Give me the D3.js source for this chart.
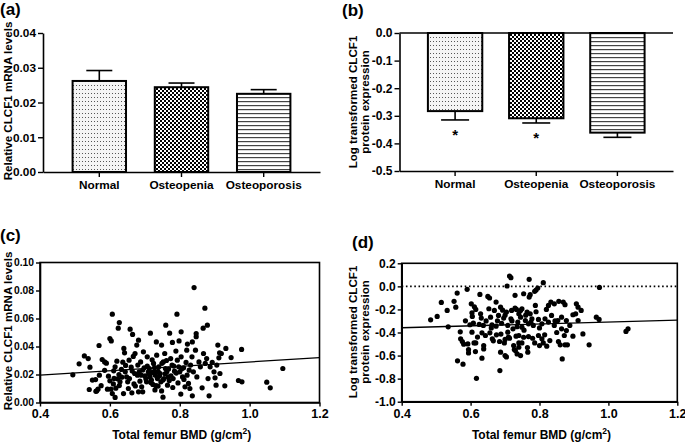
<!DOCTYPE html>
<html><head><meta charset="utf-8">
<script src="https://cdn.jsdelivr.net/npm/d3@7"></script>
<style>
html,body{margin:0;padding:0;background:#fff;}
svg text{font-family:"Liberation Sans",Arial,sans-serif;font-weight:bold;fill:#000;}
</style></head>
<body>
<svg id="chart" width="685" height="442"></svg>
<script>
// ---------- DATA ----------
const categories = ["Normal", "Osteopenia", "Osteoporosis"];
const mrnaMean = [0.0262, 0.0244, 0.0225];
const mrnaErr = [0.0030, 0.0012, 0.0012];
const proteinMean = [-0.283, -0.309, -0.361];
const proteinErr = [0.032, 0.017, 0.017];
const proteinMark = ["*", "*", ""];

const mrnaTicks = [0, 0.01, 0.02, 0.03, 0.04];
const mrnaTickLabels = ["0.00", "0.01", "0.02", "0.03", "0.04"];
const proteinTicks = [0, -0.1, -0.2, -0.3, -0.4, -0.5];
const proteinTickLabels = ["0.0", "-0.1", "-0.2", "-0.3", "-0.4", "-0.5"];
const bmdTicks = [0.4, 0.6, 0.8, 1.0, 1.2];
const bmdTickLabels = ["0.4", "0.6", "0.8", "1.0", "1.2"];
const mrnaScatterTicks = [0, 0.02, 0.04, 0.06, 0.08, 0.10];
const mrnaScatterTickLabels = ["0.00", "0.02", "0.04", "0.06", "0.08", "0.10"];
const proteinScatterTicks = [0.2, 0, -0.2, -0.4, -0.6, -0.8, -1.0];
const proteinScatterTickLabels = ["0.2", "0.0", "-0.2", "-0.4", "-0.6", "-0.8", "-1.0"];

const mrnaFit = [[0.4, 0.0196], [1.2, 0.0321]];
const proteinFit = [[0.4, -0.359], [1.2, -0.292]];

const mrnaScatter = [
[0.841,0.0821],[0.872,0.0674],[0.607,0.0631],[0.792,0.0631],[0.627,0.0571],[0.624,0.0531],[0.760,0.0552],[0.879,0.0552],[0.867,0.0531],[0.658,0.0524],
[0.665,0.0486],[0.716,0.0495],[0.771,0.0495],[0.804,0.0505],[0.847,0.0493],[0.847,0.0470],[0.600,0.0457],[0.604,0.0440],[0.682,0.0445],[0.569,0.0407],
[0.733,0.0433],[0.748,0.0410],[0.779,0.0429],[0.798,0.0440],[0.822,0.0417],[0.836,0.0433],[0.909,0.0410],[0.977,0.0379],[0.932,0.0386],[0.914,0.0355],
[0.912,0.0319],[0.947,0.0321],[1.095,0.0243],[1.049,0.0145],[1.059,0.0105],[0.968,0.0157],[0.978,0.0148],[0.929,0.0119],[0.904,0.0124],[0.901,0.0176],
[0.884,0.0048],[0.836,0.0048],[0.803,0.0060],[0.752,0.0038],[0.615,0.0036],[0.607,0.0064],[0.541,0.0093],[0.562,0.0083],[0.566,0.0095],[0.494,0.0198],
[0.512,0.0276],[0.527,0.0333],[0.538,0.0314],[0.543,0.0252],[0.570,0.0195],[0.559,0.0164],[0.578,0.0307],[0.585,0.0290],[0.590,0.0281],
[0.596,0.0188],[0.600,0.0155],[0.593,0.0095],[0.603,0.0095],[0.611,0.0226],[0.615,0.0255],[0.610,0.0133],[0.620,0.0295],[0.622,0.0169],[0.626,0.0200],[0.617,0.0102],[0.627,0.0121],[0.629,0.0148],
[0.637,0.0288],[0.642,0.0355],[0.640,0.0386],[0.644,0.0219],[0.648,0.0183],[0.651,0.0148],[0.653,0.0100],[0.639,0.0064],[0.661,0.0252],[0.667,0.0329],[0.669,0.0133],[0.663,0.0069],[0.671,0.0207],[0.672,0.0350],[0.656,0.0171],[0.634,0.0181],
[0.677,0.0410],[0.680,0.0267],[0.684,0.0219],[0.686,0.0152],[0.691,0.0112],[0.696,0.0362],[0.698,0.0248],[0.701,0.0190],[0.705,0.0148],[0.682,0.0076],[0.694,0.0076],[0.707,0.0326],[0.710,0.0219],[0.688,0.0290],[0.679,0.0195],
[0.713,0.0243],[0.715,0.0183],[0.719,0.0160],[0.723,0.0129],[0.725,0.0279],[0.726,0.0219],[0.730,0.0195],[0.734,0.0338],[0.736,0.0171],[0.740,0.0255],[0.744,0.0207],[0.746,0.0148],[0.748,0.0083],[0.729,0.0090],[0.721,0.0305],[0.738,0.0117],
[0.753,0.0290],[0.757,0.0350],[0.759,0.0243],[0.763,0.0219],[0.767,0.0183],[0.770,0.0157],[0.774,0.0314],[0.778,0.0267],[0.780,0.0107],[0.781,0.0171],[0.785,0.0224],[0.789,0.0367],[0.765,0.0124],[0.755,0.0171],
[0.793,0.0302],[0.797,0.0255],[0.800,0.0219],[0.804,0.0326],[0.808,0.0183],[0.811,0.0248],[0.815,0.0112],[0.818,0.0286],[0.821,0.0195],[0.825,0.0136],[0.827,0.0231],[0.829,0.0100],[0.820,0.0374],
[0.831,0.0267],[0.835,0.0326],[0.839,0.0219],[0.845,0.0374],[0.849,0.0183],[0.855,0.0290],[0.859,0.0255],[0.864,0.0105],[0.868,0.0350],[0.873,0.0279],[0.877,0.0314],[0.881,0.0171],[0.887,0.0255],[0.893,0.0286],[0.898,0.0219],[0.906,0.0267],[0.915,0.0207],[0.919,0.0350],
[0.612,0.0172],[0.633,0.0236],[0.645,0.0265],[0.655,0.0302],[0.664,0.0225],[0.673,0.0118],[0.690,0.0195],[0.694,0.0232],[0.703,0.0170],[0.707,0.0260],[0.712,0.0205],[0.717,0.0142],[0.722,0.0215],[0.728,0.0250],[0.732,0.0120],[0.738,0.0222],
[0.742,0.0190],[0.749,0.0280],[0.752,0.0160],[0.758,0.0205],[0.762,0.0300],[0.768,0.0240],[0.775,0.0190],[0.783,0.0260],[0.790,0.0210],[0.795,0.0140],[0.805,0.0240],[0.812,0.0165],[0.585,0.0230],[0.575,0.0120],[0.550,0.0160],[0.560,0.0080]
];

const proteinScatter = [
[0.484,-0.290],[0.503,-0.261],[0.515,-0.139],[0.532,-0.209],[0.535,-0.351],[0.552,-0.130],[0.557,-0.180],[0.561,-0.058],[0.562,-0.646],[0.578,-0.675],
[0.590,-0.026],[0.585,-0.299],[0.570,-0.394],[0.571,-0.455],[0.576,-0.478],[0.580,-0.501],[0.594,-0.548],[0.594,-0.577],[0.592,-0.499],[0.602,-0.151],
[0.604,-0.229],[0.605,-0.261],[0.611,-0.177],[0.615,-0.200],[0.608,-0.319],[0.598,-0.333],[0.604,-0.397],[0.610,-0.490],[0.615,-0.490],[0.614,-0.565],
[0.633,-0.623],[0.617,-0.797],[0.627,-0.070],[0.629,-0.238],[0.631,-0.275],[0.633,-0.403],[0.637,-0.339],[0.638,-0.513],[0.638,-0.542],[0.643,-0.426],
[0.650,-0.087],[0.655,-0.101],[0.653,-0.194],[0.658,-0.267],[0.662,-0.333],[0.656,-0.403],[0.663,-0.455],[0.666,-0.472],[0.669,-0.209],[0.674,-0.136],
[0.674,-0.345],[0.678,-0.299],[0.681,-0.252],[0.687,-0.180],[0.688,-0.414],[0.687,-0.571],[0.684,-0.478],[0.693,-0.206],[0.696,-0.275],[0.698,-0.490],
[0.685,-0.730],[0.700,-0.600],[0.704,-0.612],[0.706,0.003],[0.713,0.090],[0.717,0.075],[0.704,-0.223],[0.708,-0.339],[0.708,-0.397],[0.713,-0.449],
[0.717,-0.281],[0.719,-0.209],[0.723,-0.368],[0.725,-0.513],[0.727,-0.548],[0.729,-0.078],[0.729,-0.188],[0.733,-0.200],[0.737,-0.310],[0.732,-0.432],
[0.770,0.061],[0.811,0.032],[0.795,-0.014],[0.790,-0.032],[0.786,-0.043],[0.773,-0.072],[0.770,-0.093],[0.754,-0.064],[0.974,-0.009],
[0.826,-0.165],[0.833,-0.136],[0.843,-0.151],[0.856,-0.130],[0.869,-0.136],[0.874,-0.159],[0.907,-0.151],[0.912,-0.180],[0.921,-0.209],[0.897,-0.246],
[0.905,-0.238],[0.788,-0.165],[0.749,-0.194],[0.764,-0.223],[0.773,-0.238],[0.740,-0.238],[0.745,-0.267],[0.759,-0.296],[0.778,-0.281],[0.797,-0.287],
[0.816,-0.281],[0.835,-0.252],[0.853,-0.296],[0.864,-0.267],[0.878,-0.296],[0.888,-0.339],[0.912,-0.296],[0.965,-0.267],[0.973,-0.287],[1.051,-0.391],
[1.057,-0.368],[0.749,-0.354],[0.768,-0.325],[0.782,-0.339],[0.807,-0.325],[0.826,-0.310],[0.843,-0.339],[0.864,-0.368],[0.878,-0.383],[0.872,-0.426],
[0.897,-0.432],[0.926,-0.412],[0.740,-0.426],[0.754,-0.441],[0.768,-0.435],[0.797,-0.426],[0.807,-0.455],[0.811,-0.490],[0.821,-0.519],[0.855,-0.478],
[0.860,-0.507],[0.874,-0.507],[0.881,-0.507],[0.944,-0.507],[0.866,-0.629],[0.766,-0.571],[0.740,-0.528],[0.735,-0.586],[0.745,-0.600],[0.730,-0.557],
[0.800,-0.513],[0.786,-0.490],[0.749,-0.490],
[0.645,-0.300],[0.660,-0.360],[0.675,-0.420],[0.690,-0.320],[0.700,-0.250],[0.710,-0.440],[0.720,-0.300],[0.735,-0.350],[0.745,-0.210],[0.755,-0.380],
[0.760,-0.250],[0.775,-0.310],[0.780,-0.450],[0.790,-0.220],[0.800,-0.360],[0.815,-0.420],[0.820,-0.200],[0.830,-0.470],[0.845,-0.300],[0.850,-0.400],
[0.620,-0.440],[0.625,-0.330],[0.700,-0.460],[0.740,-0.490],[0.765,-0.530]
];

// ---------- DRAWING ----------
const svg = d3.select("#chart");
svg.append("rect").attr("width", 685).attr("height", 442).attr("fill", "#fff");

// patterns
const defs = svg.append("defs");
const pDots = defs.append("pattern").attr("id", "pDots").attr("patternUnits", "userSpaceOnUse")
  .attr("width", 3).attr("height", 4);
pDots.append("rect").attr("width", 3).attr("height", 4).attr("fill", "#f4f4f4");
pDots.append("rect").attr("x", 1).attr("y", 1).attr("width", 1).attr("height", 1).attr("fill", "#555");
const pCheck = defs.append("pattern").attr("id", "pCheck").attr("patternUnits", "userSpaceOnUse")
  .attr("width", 4).attr("height", 4);
pCheck.append("rect").attr("width", 4).attr("height", 4).attr("fill", "#fff");
pCheck.append("rect").attr("width", 2).attr("height", 2).attr("fill", "#000");
pCheck.append("rect").attr("x", 2).attr("y", 2).attr("width", 2).attr("height", 2).attr("fill", "#000");
const pLines = defs.append("pattern").attr("id", "pLines").attr("patternUnits", "userSpaceOnUse")
  .attr("width", 8).attr("height", 4);
pLines.append("rect").attr("width", 8).attr("height", 4).attr("fill", "#fff");
pLines.append("rect").attr("y", 1).attr("width", 8).attr("height", 1.2).attr("fill", "#444");
const fills = ["url(#pDots)", "url(#pCheck)", "url(#pLines)"];

function styleAxis(g, fs) {
  g.selectAll("path.domain").attr("stroke", "#000").attr("stroke-width", 1.6);
  g.selectAll(".tick line").attr("stroke", "#000").attr("stroke-width", 1.4);
  g.selectAll(".tick text").attr("font-size", fs).attr("font-family", "Liberation Sans, Arial, sans-serif")
    .attr("font-weight", "bold").attr("fill", "#000");
}
function panelLabel(txt, x, y) {
  svg.append("text").attr("x", x).attr("y", y).attr("font-size", 17).text(txt);
}
function yLabel(lines, cx, cy) {
  const t = svg.append("text").attr("transform", `translate(${cx},${cy}) rotate(-90)`)
    .attr("text-anchor", "middle").attr("font-size", 11.6);
  lines.forEach((l, i) => {
    t.append("tspan").attr("x", 0).attr("dy", i === 0 ? 0 : 12).text(l);
  });
}

// ----- Panel (a) -----
{
  const x0 = 43, x1 = 320, yTop = 33, yBot = 172;
  const x = d3.scaleBand().domain(categories).range([x0, x1]).paddingInner(0.35).paddingOuter(0.36);
  const y = d3.scaleLinear().domain([0, 0.04]).range([yBot, yTop]);
  const g = svg.append("g");
  categories.forEach((c, i) => {
    const cx = x(c) + x.bandwidth() / 2;
    g.append("line").attr("x1", cx).attr("x2", cx).attr("y1", y(mrnaMean[i])).attr("y2", y(mrnaMean[i] + mrnaErr[i]))
      .attr("stroke", "#000").attr("stroke-width", 1.6);
    g.append("line").attr("x1", cx - 13).attr("x2", cx + 13).attr("y1", y(mrnaMean[i] + mrnaErr[i])).attr("y2", y(mrnaMean[i] + mrnaErr[i]))
      .attr("stroke", "#000").attr("stroke-width", 1.6);
  });
  g.selectAll("rect.bar").data(categories).join("rect").attr("class", "bar")
    .attr("x", c => x(c)).attr("width", x.bandwidth())
    .attr("y", (c, i) => y(mrnaMean[i])).attr("height", (c, i) => y(0) - y(mrnaMean[i]))
    .attr("fill", (c, i) => fills[i]).attr("stroke", "#000").attr("stroke-width", 2);
  const ya = svg.append("g").attr("transform", `translate(${x0},0)`)
    .call(d3.axisLeft(y).tickValues(mrnaTicks).tickFormat((d, i) => mrnaTickLabels[i]).tickSize(5).tickSizeOuter(0).tickPadding(2));
  styleAxis(ya, 11.8);
  const xa = svg.append("g").attr("transform", `translate(0,${yBot})`)
    .call(d3.axisBottom(x).tickSize(5).tickSizeOuter(0).tickPadding(4));
  styleAxis(xa, 11.8);
  panelLabel("(a)", 0, 15);
  yLabel(["Relative CLCF1 mRNA levels"], 12, 101);
}

// ----- Panel (b) -----
{
  const x0 = 399.5, x1 = 673, yTop = 33, yBot = 171;
  const x = d3.scaleBand().domain(categories).range([x0, x1]).paddingInner(0.33).paddingOuter(0.35);
  const y = d3.scaleLinear().domain([-0.5, 0]).range([yBot, yTop]);
  const g = svg.append("g");
  categories.forEach((c, i) => {
    const cx = x(c) + x.bandwidth() / 2;
    const lo = proteinMean[i] - proteinErr[i];
    g.append("line").attr("x1", cx).attr("x2", cx).attr("y1", y(proteinMean[i])).attr("y2", y(lo))
      .attr("stroke", "#000").attr("stroke-width", 1.6);
    g.append("line").attr("x1", cx - 14).attr("x2", cx + 14).attr("y1", y(lo)).attr("y2", y(lo))
      .attr("stroke", "#000").attr("stroke-width", 1.6);
    if (proteinMark[i]) {
      g.append("text").attr("x", cx).attr("y", y(lo) + 20).attr("text-anchor", "middle")
        .attr("font-size", 15).text(proteinMark[i]);
    }
  });
  g.selectAll("rect.bar").data(categories).join("rect").attr("class", "bar")
    .attr("x", c => x(c)).attr("width", x.bandwidth())
    .attr("y", y(0)).attr("height", (c, i) => y(proteinMean[i]) - y(0))
    .attr("fill", (c, i) => fills[i]).attr("stroke", "#000").attr("stroke-width", 2);
  svg.append("line").attr("x1", x0).attr("x2", x1).attr("y1", y(0)).attr("y2", y(0))
    .attr("stroke", "#000").attr("stroke-width", 1.6);
  const ya = svg.append("g").attr("transform", `translate(${x0},0)`)
    .call(d3.axisLeft(y).tickValues(proteinTicks).tickFormat((d, i) => proteinTickLabels[i]).tickSize(5).tickSizeOuter(0).tickPadding(2));
  styleAxis(ya, 12);
  const xa = svg.append("g").attr("transform", `translate(0,${yBot})`)
    .call(d3.axisBottom(x).tickSize(5).tickSizeOuter(0).tickPadding(4));
  styleAxis(xa, 11.8);
  panelLabel("(b)", 342, 16);
  yLabel(["Log transformed CLCF1", "protein expression"], 357, 102);
}

// ----- Scatter panels -----
function scatterPanel(opt) {
  const x = d3.scaleLinear().domain([0.4, 1.2]).range([opt.x0, opt.x1]);
  const y = d3.scaleLinear().domain(opt.yDomain).range([opt.yBot, opt.yTop]);
  const g = svg.append("g");
  if (opt.zero) {
    g.append("line").attr("x1", x(0.4)).attr("x2", x(1.2)).attr("y1", y(0)).attr("y2", y(0))
      .attr("stroke", "#000").attr("stroke-width", 1.6).attr("stroke-dasharray", "1.6,2.6");
  }
  g.selectAll("circle").data(opt.data).join("circle")
    .attr("cx", d => x(d[0])).attr("cy", d => y(d[1])).attr("r", 2.6).attr("fill", "#000");
  g.append("path").datum(opt.fit).attr("d", d3.line().x(d => x(d[0])).y(d => y(d[1])))
    .attr("stroke", "#000").attr("stroke-width", 1.3).attr("fill", "none");
  g.append("rect").attr("x", opt.x0).attr("y", opt.yTop).attr("width", opt.x1 - opt.x0).attr("height", opt.yBot - opt.yTop)
    .attr("fill", "none").attr("stroke", "#000").attr("stroke-width", 1.6);
  const ya = svg.append("g").attr("transform", `translate(${opt.x0},0)`)
    .call(d3.axisLeft(y).tickValues(opt.yTicks).tickFormat((d, i) => opt.yLabels[i]).tickSize(4).tickSizeOuter(0).tickPadding(2));
  styleAxis(ya, opt.yFont);
  const xa = svg.append("g").attr("transform", `translate(0,${opt.yBot})`)
    .call(d3.axisBottom(x).tickValues(bmdTicks).tickFormat((d, i) => bmdTickLabels[i]).tickSize(4).tickSizeOuter(0).tickPadding(3));
  styleAxis(xa, 12.5);
  const t = svg.append("text").attr("x", (opt.x0 + opt.x1) / 2 + 2).attr("y", opt.xLabelY)
    .attr("text-anchor", "middle").attr("font-size", 12);
  t.append("tspan").text("Total femur BMD (g/cm");
  t.append("tspan").attr("font-size", 8.5).attr("dy", -5).text("2");
  t.append("tspan").attr("dy", 5).text(")");
}

scatterPanel({ x0: 40, x1: 319.5, yTop: 262.5, yBot: 402.5, yDomain: [0, 0.10], yFont: 10.3,
  yTicks: mrnaScatterTicks, yLabels: mrnaScatterTickLabels, data: mrnaScatter, fit: mrnaFit, xLabelY: 438.5 });
panelLabel("(c)", 0, 241);
yLabel(["Relative CLCF1 mRNA levels"], 12, 331);

scatterPanel({ x0: 401.7, x1: 677.3, yTop: 263.3, yBot: 401.7, yDomain: [-1.0, 0.2], zero: true, yFont: 12,
  yTicks: proteinScatterTicks, yLabels: proteinScatterTickLabels, data: proteinScatter, fit: proteinFit, xLabelY: 438.5 });
panelLabel("(d)", 352, 248);
yLabel(["Log transformed CLCF1", "protein expression"], 357, 332);
</script>
</body></html>
